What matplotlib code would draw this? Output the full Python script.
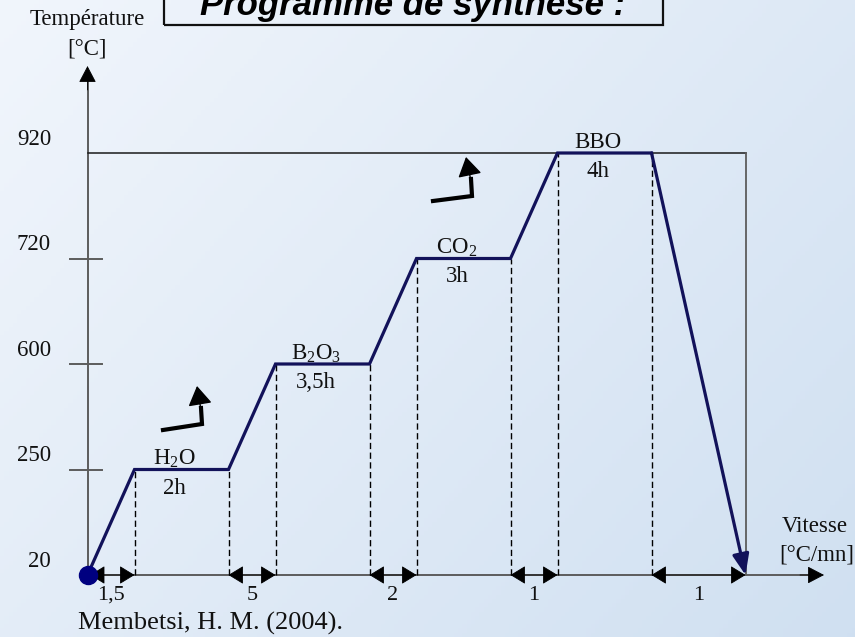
import numpy as np
import matplotlib
matplotlib.use('Agg')
import matplotlib.pyplot as plt
from matplotlib.patches import Rectangle

# ---------------- data ----------------
temp_levels = [20, 250, 600, 720, 920]            # temperature levels (°C)
stage_labels = ['H$_\\mathregular{2}$O', 'B$_\\mathregular{2}$O$_\\mathregular{3}$',
                'CO$_\\mathregular{2}$', 'BBO']
stage_durations = ['2h', '3,5h', '3h', '4h']
rate_labels = ['1,5', '5', '2', '1', '1']         # heating / cooling rates (°C/mn)
# schematic time positions of profile vertices and level index of each vertex
profile_x = [0, 1, 3, 4, 6, 7, 9, 10, 12, 14]
profile_level = [0, 1, 1, 2, 2, 3, 3, 4, 4, 0]

plt.rcParams['font.family'] = ['Liberation Serif', 'DejaVu Serif']
plt.rcParams['mathtext.fontset'] = 'custom'
plt.rcParams['mathtext.rm'] = 'Liberation Serif'

# ---------------- layout helpers (pixel -> data) ----------------
W, H = 855, 637
X0, UX = 87.5, 47.0
Y0, UY = 575.0, 105.5
def dx(px):
    return (px - X0) / UX
def dy(py):
    return (Y0 - py) / UY

fig = plt.figure(figsize=(8.55, 6.37), dpi=100)
ax = fig.add_axes([0, 0, 1, 1])
ax.set_xlim(dx(0), dx(W))
ax.set_ylim(dy(H), dy(0))
ax.axis('off')

# background gradient
gx = np.linspace(0, 1, 200)[None, :]
gy = np.linspace(0, 1, 150)[:, None]
t = (0.6 * gx + 0.4 * gy)
c0 = np.array([0.945, 0.963, 0.988])
c1 = np.array([0.815, 0.878, 0.945])
img = c0[None, None, :] * (1 - t[..., None]) + c1[None, None, :] * t[..., None]
ax.imshow(img, extent=[dx(0), dx(W), dy(H), dy(0)], aspect='auto', origin='upper', zorder=0)

txt_color = '#111111'
axis_color = '#5c5c5c'
navy = '#12125a'

# ---------------- axes (schematic) ----------------
ax.plot([0, 0], [0, dy(80)], color=axis_color, lw=1.4, zorder=2)
ax.annotate('', xy=(0, dy(66)), xytext=(0, dy(90)),
            arrowprops=dict(arrowstyle='-|>,head_length=1.05,head_width=0.55',
                            fc='black', ec='black', lw=0.6, shrinkA=0, shrinkB=0,
                            mutation_scale=10), zorder=3)
ax.plot([0, dx(810)], [0, 0], color=axis_color, lw=1.4, zorder=2)
ax.annotate('', xy=(dx(824), 0), xytext=(dx(800), 0),
            arrowprops=dict(arrowstyle='-|>,head_length=1.05,head_width=0.55',
                            fc='black', ec='black', lw=0.6, shrinkA=0, shrinkB=0,
                            mutation_scale=10), zorder=3)

# ticks for intermediate levels
for i in range(1, len(temp_levels) - 1):
    ax.plot([dx(70), dx(102)], [i, i], color=axis_color, lw=1.4, zorder=2)

# tick labels
for i, v in enumerate(temp_levels):
    ax.text(dx(51), i + 0.08, str(v), ha='right', va='baseline',
            fontsize=16.5, color=txt_color)

# top frame at max temperature
top = len(temp_levels) - 1
ax.plot([0, profile_x[-1]], [top, top], color='#1a1a1a', lw=1.1, zorder=2)
ax.plot([profile_x[-1], profile_x[-1]], [0, top], color=axis_color, lw=1.3, zorder=2)

# dashed verticals at plateau ends
for xv, lv in zip(profile_x[1:-1], profile_level[1:-1]):
    ax.plot([xv, xv], [0, lv], color='black', lw=1.0, ls=(0, (4.5, 2.5)), zorder=2)

# rate double arrows and labels
seg_pairs = [(0, 1), (3, 4), (6, 7), (9, 10), (12, 14)]
for (a, b), lab in zip(seg_pairs, rate_labels):
    xa = max(a, dx(90))
    ax.annotate('', xy=(b, 0), xytext=(xa, 0),
                arrowprops=dict(arrowstyle='<|-|>,head_length=0.95,head_width=0.58',
                                fc='black', ec='black', lw=0.6, shrinkA=0, shrinkB=0,
                                mutation_scale=10), zorder=3)
    ax.text((a + b) / 2, dy(600), lab, ha='center', va='baseline',
            fontsize=16, color=txt_color)

# temperature profile
ax.plot(profile_x[:-1], profile_level[:-1], color=navy, lw=2.3,
        solid_joinstyle='miter', zorder=4)
ax.annotate('', xy=(profile_x[-1], profile_level[-1]),
            xytext=(profile_x[-2], profile_level[-2]),
            arrowprops=dict(arrowstyle='-|>,head_length=1.25,head_width=0.5',
                            fc=navy, ec=navy, lw=2.3, shrinkA=0, shrinkB=0,
                            mutation_scale=10), zorder=4)
ax.plot([profile_x[0]], [profile_level[0]], 'o', color='#000080', ms=13, zorder=5)

# stage labels
for k, (lab, dur) in enumerate(zip(stage_labels, stage_durations)):
    i0 = 1 + 2 * k
    xc = (profile_x[i0] + profile_x[i0 + 1]) / 2 - 0.14
    lv = profile_level[i0]
    ax.text(xc, lv + 0.05, lab, ha='center', va='baseline', fontsize=16.5, color=txt_color)
    ax.text(xc, lv - 8 / UY, dur, ha='center', va='top', fontsize=16.5, color=txt_color)

# decorative bent arrows
for (tx, ty), (cx, cy), (hx, hy) in [((163, 430), (202, 424), (197, 386)),
                                      ((433, 201), (472, 196), (466, 157))]:
    ax.plot([dx(tx), dx(cx), dx(cx - 1)], [dy(ty), dy(cy), dy(hy + 22)],
            color='black', lw=3, solid_joinstyle='miter', zorder=4)
    ax.annotate('', xy=(dx(hx), dy(hy)), xytext=(dx(cx - 1), dy(hy + 24)),
                arrowprops=dict(arrowstyle='-|>,head_length=1.2,head_width=0.75',
                                fc='black', ec='black', lw=1, shrinkA=0, shrinkB=0,
                                mutation_scale=10), zorder=4)

# axis titles
ax.text(dx(87), dy(25), 'Température', ha='center', va='baseline', fontsize=16.5, color=txt_color)
ax.text(dx(87), dy(55), '[°C]', ha='center', va='baseline', fontsize=16.5, color=txt_color)
ax.text(dx(782), dy(532), 'Vitesse', ha='left', va='baseline', fontsize=16.5, color=txt_color)
ax.text(dx(779), dy(560), '[°C/mn]', ha='left', va='baseline', fontsize=16.5, color=txt_color)

# source
ax.text(dx(78), dy(630), 'Membetsi, H. M. (2004).', ha='left', va='baseline',
        fontsize=19, color=txt_color)

# title box (partly cut by the top edge, as in the reference)
ax.add_patch(Rectangle((dx(164), dy(25)), dx(663) - dx(164), dy(-20) - dy(25),
                       fill=False, ec='#111111', lw=1.6, zorder=3))
ax.text(dx(413), dy(15), 'Programme de synthèse :', ha='center', va='baseline',
        fontsize=25, fontweight='bold', fontstyle='italic',
        family=['Liberation Sans', 'DejaVu Sans'], color='black', zorder=4)

fig.savefig('out.png', dpi=100)
